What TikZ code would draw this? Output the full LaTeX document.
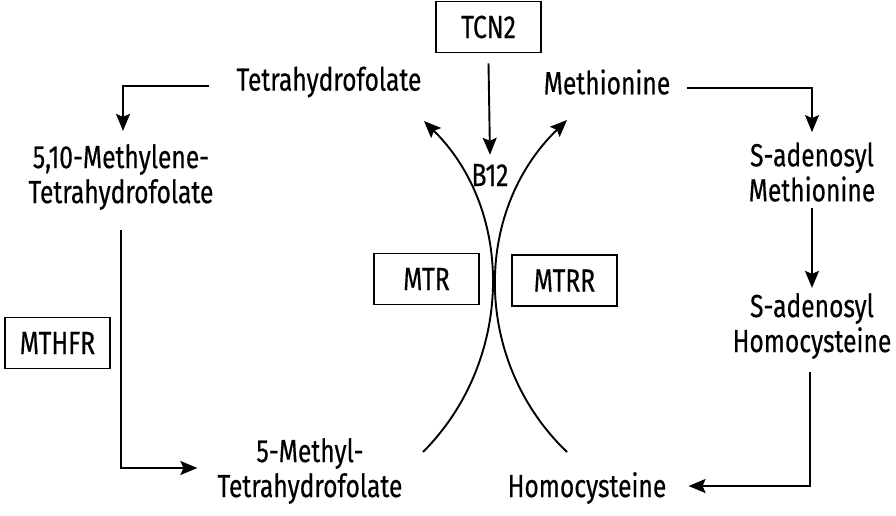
\documentclass[tikz,border=0pt]{standalone}
\usepackage{fontspec}
\setmainfont{Fira Sans}[FakeStretch=0.77,FakeBold=0.4]
\usetikzlibrary{arrows.meta,calc}
\begin{document}
\begin{tikzpicture}[x=1pt,y=-1pt,
  lbl/.style={inner sep=0pt,font=\fontsize{32}{35}\selectfont,align=center},
  box/.style={draw,line width=1.8pt,minimum width=105pt,minimum height=51pt,inner sep=0pt,font=\fontsize{32}{35}\selectfont},
  arr/.style={line width=1.9pt,-{Stealth[length=17pt,width=14pt,inset=3pt]}},
  crv/.style={line width=1.9pt,-{Stealth[length=17pt,width=14pt,inset=3pt]}}]
\useasboundingbox[fill=white] (0,0) rectangle (896,515);
\node[lbl] (thf) at (329,82) {Tetrahydrofolate};
\node[lbl] (met) at (607,82) {Methionine};
\node[box] (tcn) at (488.5,27) {TCN2};
\node[lbl] (b12) at (490,175) {B12};
\node[lbl] (mthf) at (121,177) {5,10-Methylene-\\Tetrahydrofolate};
\node[box] (mthfr) at (57.5,343) {MTHFR};
\node[lbl] (meth5) at (310,471) {5-Methyl-\\Tetrahydrofolate};
\node[lbl] (hcy) at (587,488) {Homocysteine};
\node[lbl] (sam) at (812,172) {S-adenosyl\\Methionine};
\node[lbl] (sah) at (812,326) {S-adenosyl\\Homocysteine};
\node[box] (mtr) at (426.5,279) {MTR};
\node[box] (mtrr) at (564.5,280.5) {MTRR};
\coordinate (l0) at (423,452);
\coordinate (l1) at (424,121);
\coordinate (r0) at (567,452);
\coordinate (r1) at (567,120);
\draw[arr] ($(thf.west)+(-27,4)$) -| ($(mthf.north)+(2,-13)$);
\draw[arr] ($(mthf.south)+(0,20)$) |- ($(meth5.west)+(-20,-3)$);
\draw[arr] ($(tcn.south)+(0,10)$) -- ($(b12.north)+(0,-9)$);
\draw[arr] ($(met.east)+(17,6)$) -| ($(sam.north)+(0,-10)$);
\draw[arr] ($(sam.south)+(0,6)$) -- ($(sah.north)+(0,-5)$);
\draw[arr] ($(sah.south)+(-2,13)$) |- ($(hcy.east)+(22,-2)$);
\draw[crv] (l0) .. controls (513,362) and (516,212) .. (l1);
\draw[crv] (r0) .. controls (473,362) and (472,212) .. (r1);
\end{tikzpicture}
\end{document}
